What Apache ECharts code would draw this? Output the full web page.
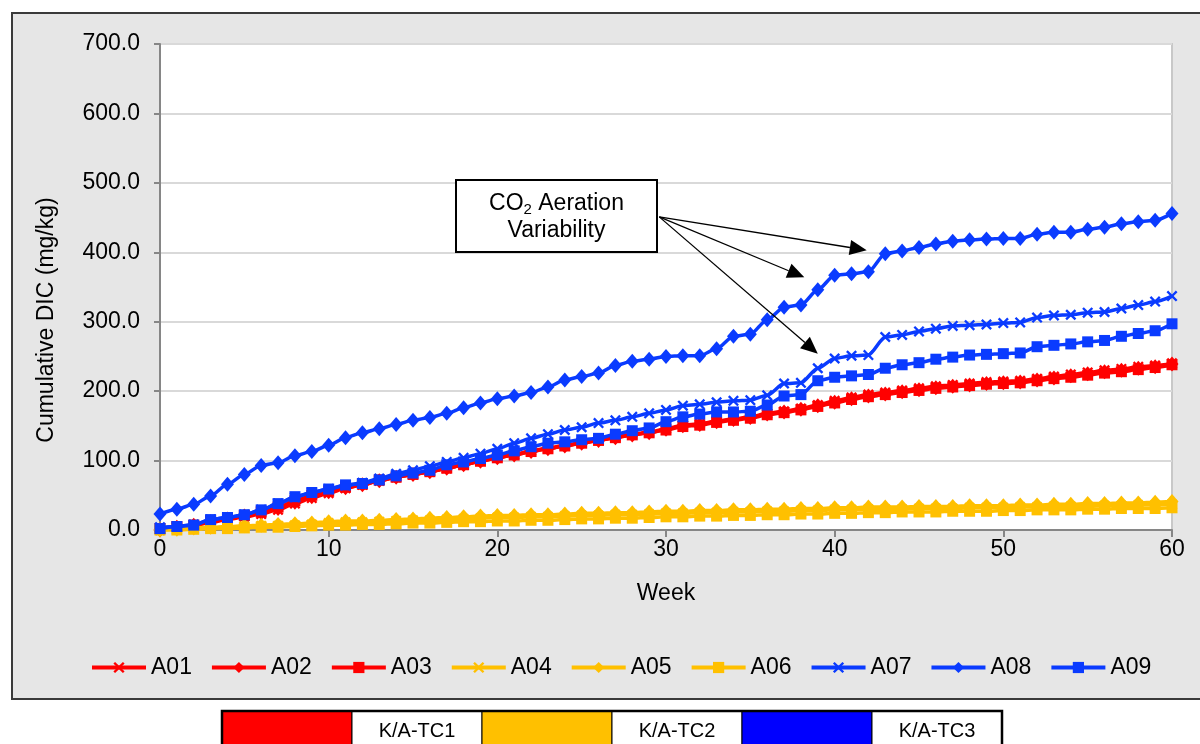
<!DOCTYPE html>
<html>
<head>
<meta charset="utf-8">
<script src="https://cdn.jsdelivr.net/npm/echarts@6/dist/echarts.min.js"></script>
<style>
  html, body { margin: 0; padding: 0; background: #ffffff; }
  #chart { width: 1200px; height: 744px; }
</style>
</head>
<body>
<div id="chart"></div>
<script>
// Weeks 0..60
const weeks = [];
for (let w = 0; w <= 60; w++) weeks.push(w);

// Cumulative DIC (mg/kg) per week
const A01 = [0,4,6,11,15,19,23,29,38,46,53,60,65,71,76,80,84,89,94,100,105,109,114,118,122,126,130,134,138,141,146,151,153,157,160,163,168,171,175,180,186,191,195,198,201,204,207,209,211,213,214,215,218,221,224,227,230,232,235,237,240];
const A02 = [0,4,7,12,16,20,25,31,40,48,55,61,65,71,76,80,84,89,94,99,104,108,113,117,121,125,129,133,137,140,145,150,152,156,159,162,167,170,174,179,184,189,193,196,199,202,205,207,209,211,212,213,216,219,222,225,228,230,233,235,239];
const A03 = [2,5,7,13,17,21,26,33,42,50,56,62,66,72,76,80,84,89,94,99,104,108,113,117,121,125,129,133,137,140,144,149,151,155,158,161,166,169,173,178,183,188,192,195,198,201,204,206,208,210,211,212,215,218,220,223,226,228,231,234,238];
const A04 = [0,1,2,3,4,5,6,6,7,8,10,11,11,12,13,14,14,15,16,17,18,18,19,19,20,21,21,22,22,23,24,24,25,25,26,26,27,27,28,28,29,29,30,30,30,31,31,31,32,32,32,33,33,34,34,34,35,35,36,36,37];
const A05 = [0,1,3,4,5,6,7,8,9,10,12,13,13,14,15,16,17,18,19,20,21,21,22,22,23,24,24,25,25,26,27,27,28,28,29,29,30,30,31,31,32,32,33,33,33,34,34,34,35,35,35,36,36,37,37,38,38,39,39,40,41];
const A06 = [0,0,1,2,2,3,4,4,5,6,7,7,8,8,9,10,10,11,12,12,13,13,14,14,15,16,16,17,17,18,19,19,20,20,21,21,22,22,23,23,24,24,25,25,26,26,26,27,27,27,28,28,29,29,29,30,30,31,31,31,32];
const A07 = [4,5,8,15,18,22,29,38,47,54,59,64,68,74,81,86,92,98,104,110,117,125,132,138,144,148,154,158,163,168,173,179,181,184,186,187,194,211,212,233,247,251,252,278,281,286,290,294,295,296,298,299,306,309,310,313,314,319,324,329,337];
const A08 = [23,30,37,49,66,80,93,97,107,113,122,133,140,146,152,158,162,168,176,183,189,193,198,206,216,221,226,237,243,246,250,251,251,261,279,282,303,321,324,346,367,369,372,398,402,407,412,416,418,419,420,420,426,429,429,433,436,441,444,446,456];
const A09 = [2,5,7,15,18,22,29,38,48,54,59,65,67,72,78,82,86,94,98,103,108,114,120,125,127,130,132,138,143,147,156,163,167,170,170,171,180,193,195,215,220,222,224,233,238,241,246,249,252,253,254,255,264,266,268,271,273,279,283,287,297];

const seriesNames = ['A01','A02','A03','A04','A05','A06','A07','A08','A09'];
const seriesValues = [A01, A02, A03, A04, A05, A06, A07, A08, A09];

// Treatment groups shown in the key table
const groupLabels = ['K/A-TC1', 'K/A-TC2', 'K/A-TC3'];

const RED = '#ff0000', GOLD = '#ffc000', BLUE = '#0a3bff';
const groupColors = [RED, GOLD, '#0000ff'];
const colors = [RED, RED, RED, GOLD, GOLD, GOLD, BLUE, BLUE, BLUE];

// filled "x" mark
const CROSS = 'path://M0,1.5 L1.5,0 L5,3.5 L8.5,0 L10,1.5 L6.5,5 L10,8.5 L8.5,10 L5,6.5 L1.5,10 L0,8.5 L3.5,5 Z';
const symbols = [CROSS, 'diamond', 'rect', CROSS, 'diamond', 'rect', CROSS, 'diamond', 'rect'];
const symbolSizes = [[11, 11], [13, 15], [11, 11], [11, 11], [13, 15], [11, 11], [11, 11], [13, 15], [11, 11]];

const FONT = 'Liberation Sans, Arial, Helvetica, sans-serif';

// Callout arrows (data coordinates: week, mg/kg)
const calloutStart = [29.6, 451];
const calloutTargets = [[41.9, 403], [38.2, 364], [39.0, 254]];

const series = seriesNames.map((name, i) => ({
  name: name,
  type: 'line',
  data: weeks.map((w, k) => [w, seriesValues[i][k]]),
  smooth: 0.25,
  smoothMonotone: 'x',
  symbol: symbols[i],
  symbolSize: symbolSizes[i],
  showAllSymbol: true,
  lineStyle: { color: colors[i], width: 3.5 },
  itemStyle: { color: colors[i], borderWidth: 0 },
  emphasis: { disabled: true },
  z: 2 + i
}));

// key table cells under the chart box
const tableLeft = 222, tableTop = 711, cellW = 130, cellH = 40;
const tableCells = [];
groupLabels.forEach((lab, g) => {
  tableCells.push({
    type: 'rect', id: 'swatch' + g,
    shape: { x: tableLeft + g * 2 * cellW, y: tableTop, width: cellW, height: cellH },
    style: { fill: groupColors[g], stroke: '#000', lineWidth: 1 }
  });
  tableCells.push({
    type: 'rect', id: 'cell' + g,
    shape: { x: tableLeft + (g * 2 + 1) * cellW, y: tableTop, width: cellW, height: cellH },
    style: { fill: '#fff', stroke: '#000', lineWidth: 1 }
  });
  tableCells.push({
    type: 'text', id: 'celltext' + g,
    x: tableLeft + (g * 2 + 1) * cellW + cellW / 2,
    y: tableTop + 20,
    style: { text: lab, fill: '#000', font: '20px ' + FONT, textAlign: 'center', textVerticalAlign: 'middle' }
  });
});
tableCells.push({
  type: 'rect', id: 'tableframe',
  shape: { x: tableLeft, y: tableTop, width: cellW * 6, height: cellH },
  style: { fill: 'none', stroke: '#000', lineWidth: 2.5 }
});

const chart = echarts.init(document.getElementById('chart'), null, { renderer: 'canvas' });

chart.setOption({
  animation: false,
  backgroundColor: '#ffffff',
  textStyle: { fontFamily: FONT },
  grid: {
    left: 160, right: 28, top: 44, bottom: 214,
    show: true,
    backgroundColor: '#ffffff',
    borderColor: '#c8c8c8',
    borderWidth: 2
  },
  legend: {
    data: seriesNames,
    left: 90,
    top: 656,
    padding: 0,
    itemWidth: 54,
    itemHeight: 14,
    itemGap: 18,
    lineStyle: { width: 4 },
    textStyle: { fontSize: 23, color: '#000', fontFamily: FONT },
    selectedMode: false
  },
  xAxis: {
    type: 'value',
    min: 0, max: 60, interval: 10,
    name: 'Week',
    nameLocation: 'middle',
    nameGap: 52,
    nameTextStyle: { fontSize: 23, color: '#000', fontFamily: FONT },
    axisLine: { show: true, lineStyle: { color: '#868686', width: 2 } },
    axisTick: { show: true, length: 7, lineStyle: { color: '#868686', width: 2 } },
    axisLabel: { fontSize: 23, color: '#000', margin: 8, fontFamily: FONT },
    splitLine: { show: false }
  },
  yAxis: {
    type: 'value',
    min: 0, max: 700, interval: 100,
    axisLine: { show: true, lineStyle: { color: '#868686', width: 2 } },
    axisTick: { show: true, length: 6, lineStyle: { color: '#868686', width: 2 } },
    axisLabel: {
      fontSize: 23, color: '#000', margin: 20, fontFamily: FONT,
      formatter: v => v.toFixed(1)
    },
    splitLine: { show: true, lineStyle: { color: '#d9d9d9', width: 2 } }
  },
  graphic: [
    {
      // grey chart box
      type: 'rect', id: 'panel', z: -10, silent: true,
      shape: { x: 12, y: 13, width: 1200, height: 686 },
      style: { fill: '#e6e6e6', stroke: '#3a3a3a', lineWidth: 2 }
    },
    {
      // y axis title
      type: 'text', id: 'ytitle', z: 10,
      x: 47, y: 320, rotation: Math.PI / 2,
      style: {
        text: 'Cumulative DIC (mg/kg)', fill: '#000',
        font: '23px ' + FONT, textAlign: 'center', textVerticalAlign: 'middle'
      }
    }
  ].concat(tableCells),
  series: series
});

// Callout: arrows anchored in data space, then the labelled box on top
const p0 = chart.convertToPixel({ gridIndex: 0 }, calloutStart);
const arrowEls = [];
calloutTargets.forEach((t, i) => {
  const p1 = chart.convertToPixel({ gridIndex: 0 }, t);
  const dx = p1[0] - p0[0], dy = p1[1] - p0[1];
  const len = Math.sqrt(dx * dx + dy * dy);
  const ux = dx / len, uy = dy / len;
  const headLen = 17, headHalf = 7.5;
  const bx = p1[0] - ux * headLen, by = p1[1] - uy * headLen;
  arrowEls.push({
    type: 'line', id: 'arrowline' + i, z: 30, silent: true,
    shape: { x1: p0[0], y1: p0[1], x2: bx, y2: by },
    style: { stroke: '#000', lineWidth: 1.3 }
  });
  arrowEls.push({
    type: 'polygon', id: 'arrowhead' + i, z: 30, silent: true,
    shape: { points: [[p1[0], p1[1]], [bx - uy * headHalf, by + ux * headHalf], [bx + uy * headHalf, by - ux * headHalf]] },
    style: { fill: '#000' }
  });
});
arrowEls.push({
  type: 'rect', id: 'calloutbox', z: 31, silent: true,
  shape: { x: 456, y: 180, width: 201, height: 72 },
  style: { fill: '#fff', stroke: '#000', lineWidth: 2 }
});
arrowEls.push({
  type: 'text', id: 'callouttext', z: 32, silent: true,
  x: 556.5, y: 217,
  style: {
    text: 'CO{sub|2} Aeration\nVariability',
    fill: '#000',
    fontSize: 23, fontFamily: FONT,
    lineHeight: 27,
    align: 'center', verticalAlign: 'middle',
    rich: {
      sub: { fontSize: 15, fontFamily: FONT, lineHeight: 15, verticalAlign: 'bottom' }
    }
  }
});
chart.setOption({ graphic: arrowEls });
</script>
</body>
</html>
